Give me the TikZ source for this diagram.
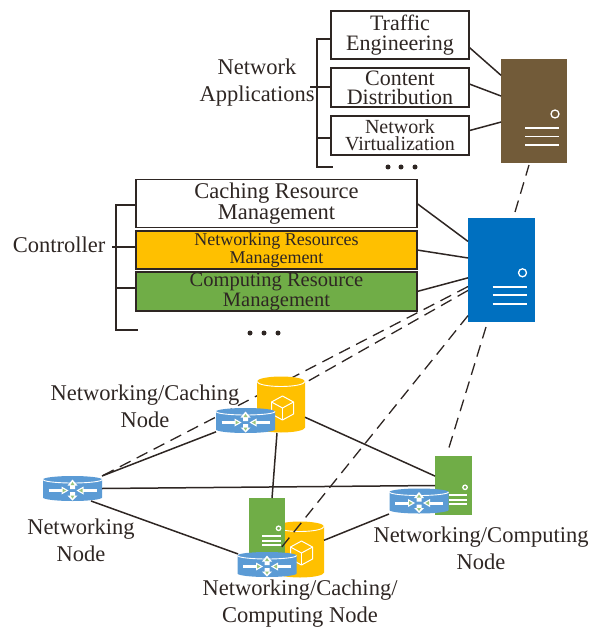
\documentclass[tikz,border=0pt]{standalone}
\usepackage{fontspec}
\setmainfont{Liberation Serif}
\usetikzlibrary{backgrounds}
\definecolor{inkdark}{HTML}{2E2623}
\definecolor{srvbrown}{HTML}{725B39}
\definecolor{srvblue}{HTML}{0070C0}
\definecolor{cacheorange}{HTML}{FFC000}
\definecolor{compgreen}{HTML}{70AD47}
\definecolor{routerblue}{HTML}{5B9BD5}
\newcommand{\fs}[2]{\fontsize{#1}{#2}\selectfont}
\tikzset{
	box/.style={draw=inkdark, line width=1.5pt, inner sep=0pt, outer sep=0pt, align=center, text=inkdark},
	label/.style={inner sep=0pt, align=center, text=inkdark, font=\fs{22.5}{27}},
	server/.style={inner sep=0pt, outer sep=0pt, minimum width=#1},
	ghost/.style={inner sep=0pt, outer sep=0pt},
	link/.style={draw=inkdark, line width=1.5pt},
	dashlink/.style={draw=inkdark, line width=1.3pt, dash pattern=on 12pt off 7pt},
	pics/serverface/.style={code={
		\draw[white, line width=1.3pt] (21,3.3) circle (4);
		\foreach \y in {17.3,25.8,34.3} {
			\draw[white, line width=1.8pt] (-9,\y) -- (25,\y);
		}
	}},
	pics/router/.style={code={
		% body and top rim
		\fill[routerblue] (-29.5,-9) -- (-29.5,9) arc[start angle=180, end angle=0, x radius=29.5, y radius=3.5]
			-- (29.5,-9) arc[start angle=0, end angle=-180, x radius=29.5, y radius=3.5] -- cycle;
		\draw[white, line width=0.9pt] (-29.5,-9) arc[start angle=180, end angle=0, x radius=29.5, y radius=3.5];
		% arrows
		\draw[white, line width=3pt] (-24,2) -- (-10,2);
		\draw[white, line width=3pt] (24,2) -- (10,2);
		\fill[white] (-11,-2) -- (-4,2) -- (-11,6) -- cycle;
		\fill[white] (11,-2) -- (4,2) -- (11,6) -- cycle;
		\fill[compgreen!70!white] (-10,0) -- (-6.5,2) -- (-10,4) -- cycle;
		\fill[compgreen!70!white] (10,0) -- (6.5,2) -- (10,4) -- cycle;
		\fill[white] (-5,-3) -- (0,-9) -- (5,-3) -- (2.5,-3) -- (2.5,0.5) -- (-2.5,0.5) -- (-2.5,-3) -- cycle;
		\fill[white] (-5,7) -- (0,12) -- (5,7) -- (2.5,7) -- (2.5,3.5) -- (-2.5,3.5) -- (-2.5,7) -- cycle;
		\fill[compgreen!70!white] (-2,-3.5) -- (0,-6.5) -- (2,-3.5) -- cycle;
		\fill[compgreen!70!white] (-2,7) -- (0,10) -- (2,7) -- cycle;
	}},
	pics/cache/.style={code={
		\fill[cacheorange] (-24,-23) -- (-24,23) arc[start angle=180, end angle=0, x radius=24, y radius=5]
			-- (24,-23) arc[start angle=0, end angle=-180, x radius=24, y radius=5] -- cycle;
		\draw[white, line width=0.9pt] (-24,-23) arc[start angle=180, end angle=0, x radius=24, y radius=5];
		% the cube
		\begin{scope}[shift={(1.5,3.5)}, white, line width=1pt, line join=round]
			\draw (0,-12) -- (11,-6) -- (11,6) -- (0,12) -- (-11,6) -- (-11,-6) -- cycle;
			\draw (-11,-6) -- (0,0) -- (11,-6);
			\draw (0,0) -- (0,12);
		\end{scope}
	}}
}

\begin{document}
\begin{tikzpicture}[x=1pt, y=-1pt]
	\useasboundingbox (0,0) rectangle (590,628);
	% Network applications
	\node[box, minimum width=138pt, minimum height=48pt, font=\fs{22}{20}] (traffic) at (400,35) {Traffic\\Engineering};
	\node[box, minimum width=138pt, minimum height=39pt, font=\fs{22}{19}] (content) at (400,87.5) {Content\\Distribution};
	\node[box, minimum width=138pt, minimum height=39pt, font=\fs{20}{17}] (virtual) at (400,135.5) {Network\\Virtualization};
	\node[label] (netapps) at (257,83) {Network\\Applications};
	\node[server=66pt, minimum height=104pt, fill=srvbrown] (appserver) at (534,110.7) {};
	\pic at (appserver.center) {serverface};
	% Controller
	\node[box, minimum width=281pt, minimum height=48pt, fill=white, font=\fs{22.5}{19}] (caching) at (276.5,203.5) {Caching Resource\\Management};
	\node[box, minimum width=281pt, minimum height=38pt, fill=cacheorange, font=\fs{18}{18}] (networking) at (276.5,250) {Networking Resources\\Management};
	\node[box, minimum width=281pt, minimum height=39pt, fill=compgreen, font=\fs{20.5}{20}] (computing) at (276.5,291.5) {Computing Resource\\Management};
	\node[label] (controller) at (59,245) {Controller};
	\node[server=67pt, minimum height=104pt, fill=srvblue] (ctrlserver) at (501.5,269.5) {};
	\pic at (ctrlserver.center) {serverface};
	% Network nodes
	\node[ghost, minimum width=48pt, minimum height=57pt] (cacheone) at (281,404.5) {};
	\pic at (cacheone.center) {cache};
	\node[ghost, minimum width=59pt, minimum height=25pt] (routerone) at (245.5,420.5) {};
	\pic at (routerone.center) {router};
	\node[ghost, minimum width=59pt, minimum height=25pt] (routertwo) at (72.5,488.5) {};
	\pic at (routertwo.center) {router};
	\node[ghost, minimum width=48pt, minimum height=56pt] (cachetwo) at (300,549.5) {};
	\pic at (cachetwo.center) {cache};
	\node[server=36pt, minimum height=57pt, fill=compgreen] (greenone) at (267,526.5) {};
	\pic[scale=0.55] at (greenone.center) {serverface};
	\node[ghost, minimum width=58pt, minimum height=25pt] (routerthree) at (267,564.5) {};
	\pic at (routerthree.center) {router};
	\node[server=37pt, minimum height=59pt, fill=compgreen] (greentwo) at (453.5,485.5) {};
	\pic[scale=0.55] at (greentwo.center) {serverface};
	\node[ghost, minimum width=60pt, minimum height=26pt] (routerfour) at (419,501) {};
	\pic at (routerfour.center) {router};
	% Node labels
	\node[label] (labone) at (145,406) {Networking/Caching\\Node};
	\node[label] (labtwo) at (81,540) {Networking\\Node};
	\node[label] (labthree) at (481,548.5) {Networking/Computing\\Node};
	\node[label] (labfour) at (300,604) {Networking/Caching/\\Computing Node};
	% Brackets
	\coordinate (apptop) at (317,39);
	\coordinate (appbot) at (317,167);
	\coordinate (append) at (333,167);
	\coordinate (appmid) at (310,87);
	\coordinate (appthird) at (317,138);
	\draw[link] (traffic.west |- apptop) -- (apptop) -- (appbot) -- (append);
	\draw[link] (appmid) -- (content.west |- appmid);
	\draw[link] (appthird) -- (virtual.west |- appthird);
	\coordinate (ctrltop) at (116,205);
	\coordinate (ctrlbot) at (116,330);
	\coordinate (ctrlend) at (138,330);
	\coordinate (ctrlmid) at (112,247);
	\coordinate (ctrlthird) at (116,288);
	\draw[link] (caching.west |- ctrltop) -- (ctrltop) -- (ctrlbot) -- (ctrlend);
	\draw[link] (ctrlmid) -- (networking.west |- ctrlmid);
	\draw[link] (ctrlthird) -- (computing.west |- ctrlthird);
	% The dots
	\foreach \x in {388,401,415} {
		\fill[inkdark] (\x,167) circle (2.5);
	}
	\foreach \x in {250,264,278} {
		\fill[inkdark] (\x,333) circle (2.5);
	}
	% Connections to the servers
	\draw[link] (traffic.-10) -- (appserver.133.6);
	\draw[link] (content.3) -- (appserver.156);
	\draw[link] (virtual.4) -- (appserver.199);
	\draw[link] (caching.east) -- (ctrlserver.140.6);
	\draw[link] (networking.east) -- (ctrlserver.161);
	\draw[link] (computing.east) -- (ctrlserver.194);
	% Solid links between the nodes
	\draw[link] (routertwo.east) -- (greentwo.west);
	\draw[link] (routertwo.north east) -- (routerone.201);
	\draw[link] (routertwo.-34) -- (routerthree.160);
	\draw[link] (cacheone.262) -- (greenone.80);
	\draw[link] (cacheone.332.5) -- (greentwo.153);
	\draw[link] (cachetwo.21.6) -- (routerfour.south west);
	% Dashed links, the first ones run behind the icons
	\begin{scope}[on background layer]
		\draw[dashlink] (ctrlserver.207.6) -- (routertwo.north east);
		\draw[dashlink] (ctrlserver.212.7) -- (cacheone.42);
	\end{scope}
	\coordinate (cachetwoin) at (281,548);
	\coordinate (appgap) at (529,165);
	\coordinate (ctrlgap) at (515,212);
	\coordinate (ctrllow) at (486,327);
	\coordinate (greengap) at (447,454);
	\draw[dashlink] (ctrlgap) -- (appgap);
	\draw[dashlink] (ctrlserver.234) -- (cachetwoin);
	\draw[dashlink] (ctrllow) -- (greengap);
\end{tikzpicture}
\end{document}
